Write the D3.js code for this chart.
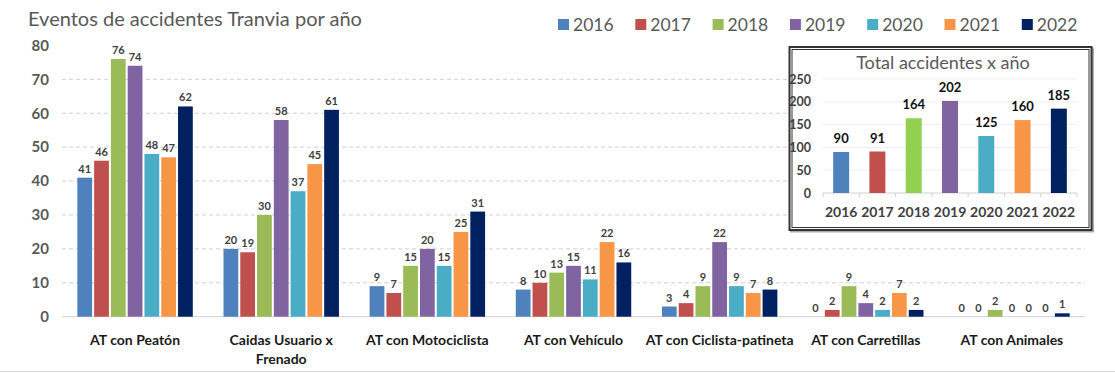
<!DOCTYPE html>
<html><head><meta charset="utf-8">
<script src="https://cdn.jsdelivr.net/npm/d3@7"></script>
<style>
html,body{margin:0;padding:0;background:#fff;}
svg{display:block;font-family:Lato,"Open Sans",sans-serif;}
</style></head>
<body>
<svg id="c" width="1115" height="374"></svg>
<script>
const years = ["2016","2017","2018","2019","2020","2021","2022"];
const categories = ["AT con Peatón","Caidas Usuario x|Frenado","AT con Motociclista","AT con Vehículo","AT con Ciclista-patineta","AT con Carretillas","AT con Animales"];
const v2016 = [41,20,9,8,3,0,0];
const v2017 = [46,19,7,10,4,2,0];
const v2018 = [76,30,15,13,9,9,2];
const v2019 = [74,58,20,15,22,4,0];
const v2020 = [48,37,15,11,9,2,0];
const v2021 = [47,45,25,22,7,7,0];
const v2022 = [62,61,31,16,8,2,1];
const seriesValues = [v2016,v2017,v2018,v2019,v2020,v2021,v2022];
const yTicks = [0,10,20,30,40,50,60,70,80];
const totals = [90,91,164,202,125,160,185];
const insetTicks = [0,50,100,150,200,250];
const colors = ["#4F81BD","#C0504D","#9BBB59","#8064A2","#4BACC6","#F79646","#002060"];
const insetColors = ["#4F81BD","#C0504D","#92D050","#8064A2","#4BACC6","#F79646","#002060"];

const svg = d3.select("#c");

// title
svg.append("text").attr("x",28).attr("y",25.5).attr("font-size",20).attr("fill","#595959")
  .text("Eventos de accidentes Tranvia por año");

// main scales
const y = d3.scaleLinear().domain([0,80]).range([316.7,45.4]);
const x0 = d3.scaleBand().domain(categories).range([62,1085]).paddingInner(0.21).paddingOuter(0.105);
const x1 = d3.scaleBand().domain(years).range([0,x0.bandwidth()]).paddingInner(0.12);

// gridlines
svg.append("g").selectAll("line").data(yTicks.filter(t=>t>0 && t<80)).join("line")
  .attr("x1",62).attr("x2",1085).attr("y1",d=>y(d)).attr("y2",d=>y(d))
  .attr("stroke","#d0d0d0").attr("stroke-dasharray","4,3").attr("stroke-width",1);
svg.append("line").attr("x1",62).attr("x2",1085).attr("y1",y(0)).attr("y2",y(0))
  .attr("stroke","#d9d9d9").attr("stroke-width",1.2);

// y axis labels
const yAxis = d3.axisLeft(y).tickValues(yTicks).tickSize(0).tickPadding(0);
const ya = svg.append("g").attr("transform","translate(49,0)").call(yAxis);
ya.select(".domain").remove();
ya.selectAll("text").attr("font-size",15).attr("font-weight","bold").attr("fill","#595959")
  .attr("font-family","Lato,'Open Sans',sans-serif");

// bars
const groups = svg.append("g").selectAll("g").data(categories).join("g")
  .attr("transform",d=>`translate(${x0(d)},0)`);
groups.each(function(cat,ci){
  const g = d3.select(this);
  const vals = years.map((yr,si)=>({yr,si,v:seriesValues[si][ci]}));
  g.selectAll("rect").data(vals).join("rect")
    .attr("x",d=>x1(d.yr)).attr("width",x1.bandwidth())
    .attr("y",d=>y(d.v)).attr("height",d=>y(0)-y(d.v))
    .attr("fill",d=>colors[d.si]);
  g.selectAll("text").data(vals).join("text")
    .attr("x",d=>x1(d.yr)+x1.bandwidth()/2).attr("y",d=>y(d.v)-5)
    .attr("text-anchor","middle").attr("font-size",11).attr("font-weight","bold").attr("fill","#404040")
    .text(d=>d.v);
});

// category labels
const xAxis = d3.axisBottom(x0).tickSize(0).tickPadding(0);
const xa = svg.append("g").attr("transform",`translate(0,${y(0)})`).call(xAxis);
xa.select(".domain").remove();
xa.selectAll("text").remove();
xa.selectAll(".tick").each(function(d){
  const lines = d.split("|");
  const t = d3.select(this).append("text").attr("text-anchor","middle").attr("font-size",14)
    .attr("font-weight","bold").attr("fill","#1a1a1a").attr("font-family","Lato,'Open Sans',sans-serif");
  lines.forEach((l,i)=>t.append("tspan").attr("x",0).attr("y",28+i*19.5).text(l));
});

// legend
const leg = svg.append("g").selectAll("g").data(years).join("g")
  .attr("transform",(d,i)=>`translate(${558+i*77.3},0)`);
leg.append("rect").attr("x",0).attr("y",19).attr("width",11).attr("height",11).attr("fill",(d,i)=>colors[i]);
leg.append("text").attr("x",15).attr("y",31).attr("font-size",17.5).attr("fill","#595959").text(d=>d);

// inset
const ins = svg.append("g");
ins.append("rect").attr("x",791).attr("y",48.5).attr("width",302).attr("height",183)
  .attr("fill","none").attr("stroke","#aaa").attr("stroke-width",2);
ins.append("rect").attr("x",789.5).attr("y",47).attr("width",302).attr("height",183)
  .attr("fill","#fff").attr("stroke","#333").attr("stroke-width",2);
ins.append("rect").attr("x",792).attr("y",49.5).attr("width",297).attr("height",178)
  .attr("fill","none").attr("stroke","#333").attr("stroke-width",1);
ins.append("text").attr("x",943).attr("y",69).attr("text-anchor","middle").attr("font-size",18)
  .attr("fill","#595959").text("Total accidentes x año");

const yi = d3.scaleLinear().domain([0,250]).range([193,79]);
const xi = d3.scaleBand().domain(years).range([823,1077]).paddingInner(0.56).paddingOuter(0.28);
ins.append("g").selectAll("line").data(insetTicks.filter(t=>t>0)).join("line")
  .attr("x1",823).attr("x2",1077).attr("y1",d=>yi(d)).attr("y2",d=>yi(d))
  .attr("stroke","#efefef").attr("stroke-width",1);
ins.append("line").attr("x1",823).attr("x2",1077).attr("y1",yi(0)).attr("y2",yi(0))
  .attr("stroke","#d0d0d0").attr("stroke-width",1);
ins.append("g").selectAll("line").data(d3.range(years.length+1)).join("line")
  .attr("x1",d=>823+d*(254/7)).attr("x2",d=>823+d*(254/7)).attr("y1",yi(0)).attr("y2",yi(0)+4)
  .attr("stroke","#d0d0d0");
const yia = ins.append("g").attr("transform","translate(811,0)")
  .call(d3.axisLeft(yi).tickValues(insetTicks).tickSize(0).tickPadding(0));
yia.select(".domain").remove();
yia.selectAll("text").attr("font-size",12.5).attr("font-weight","bold").attr("fill","#404040")
  .attr("font-family","Lato,'Open Sans',sans-serif");
ins.append("g").selectAll("rect").data(totals).join("rect")
  .attr("x",(d,i)=>xi(years[i])).attr("width",xi.bandwidth())
  .attr("y",d=>yi(d)).attr("height",d=>yi(0)-yi(d)).attr("fill",(d,i)=>insetColors[i]);
ins.append("g").selectAll("text").data(totals).join("text")
  .attr("x",(d,i)=>xi(years[i])+xi.bandwidth()/2).attr("y",d=>yi(d)-9)
  .attr("text-anchor","middle").attr("font-size",13).attr("font-weight","bold").attr("fill","#111")
  .text(d=>d);
const xia = ins.append("g").attr("transform",`translate(0,${yi(0)})`)
  .call(d3.axisBottom(xi).tickSize(0).tickPadding(0));
xia.select(".domain").remove();
xia.selectAll("text").attr("dy",null).attr("y",24).attr("font-size",14).attr("font-weight","bold").attr("fill","#404040")
  .attr("font-family","Lato,'Open Sans',sans-serif");

// bottom border line
svg.append("line").attr("x1",0).attr("x2",1115).attr("y1",371.5).attr("y2",371.5).attr("stroke","#d9d9d9");
</script>
</body></html>
